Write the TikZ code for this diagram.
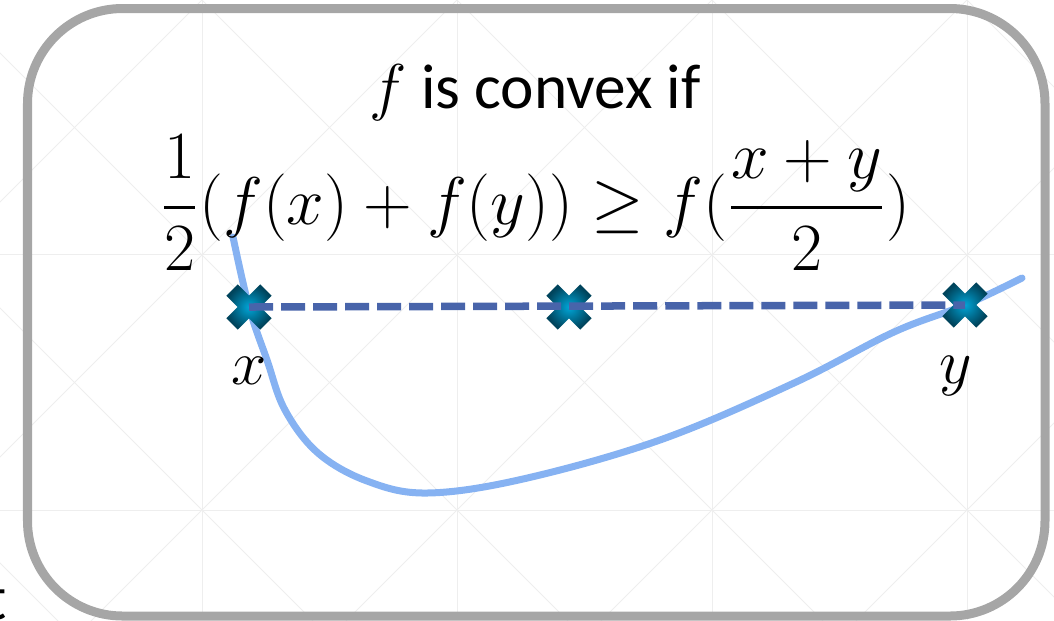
\RequirePackage{fix-cm}
\documentclass[tikz,border=0pt]{standalone}
\usepackage{amsmath}
\usepackage{fontspec}
\setmainfont{Carlito}
\usepackage{tikz}
\usetikzlibrary{positioning}
\definecolor{framegray}{RGB}{166,166,166}
\definecolor{curveblue}{RGB}{134,178,242}
\definecolor{chordblue}{RGB}{72,100,170}
\definecolor{markin}{RGB}{0,165,215}
\definecolor{markout}{RGB}{0,68,92}
\definecolor{gridgray}{RGB}{238,238,238}
\tikzset{
  xmark/.pic={
    \shade[inner color=markin, outer color=markout, rotate=45]
      (-24,-8) -- (-8,-8) -- (-8,-24) -- (8,-24) -- (8,-8) -- (24,-8)
      -- (24,8) -- (8,8) -- (8,24) -- (-8,24) -- (-8,8) -- (-24,8) -- cycle;
  },
  chord/.style={chordblue, line width=0.075cm, dash pattern=on 0.24cm off 0.08cm},
  fcurve/.style={curveblue, line width=0.07cm, line cap=round}
}

\begin{document}
\begin{tikzpicture}[x=0.01cm, y=-0.01cm, font=\fontsize{18}{22}\selectfont]
  \useasboundingbox (0,0) rectangle (1054,620);
  % Faint background grid
  \begin{scope}
    \clip (0,0) rectangle (1054,620);
    \foreach \gx in {-53,202,457,712,967}
      \draw[gridgray, line width=0.01cm] (\gx,0) -- (\gx,620);
    \foreach \gy in {-2,254,510}
      \draw[gridgray, line width=0.01cm] (0,\gy) -- (1054,\gy);
    \foreach \k in {-3,...,6} {
      \draw[gridgray, line width=0.01cm] (\k*255-408,-100) -- (\k*255+392,700);
      \draw[gridgray, line width=0.01cm] (\k*255+302,-100) -- (\k*255-498,700);
    }
  \end{scope}
  % Frame
  \draw[framegray, line width=0.09cm, rounded corners=0.95cm]
    (27.5,8.5) rectangle (1045,616);
  % Leftover letter at the edge
  \node[anchor=base east, inner sep=0pt] (cut) at (7,619) {t};
  % Points x, mid, y
  \coordinate (px) at (249,307);
  \coordinate (pm) at (569,307);
  \coordinate (py) at (965,305);
  % The function
  \draw[fcurve] plot[smooth, tension=0.6] coordinates {
    (233,237) (px) (267,360) (285,410) (318,453) (367,481) (427,493)
    (523,479) (660,440) (794,383) (894,332) (py) (1022,278)};
  % Markers
  \pic at (px) {xmark};
  \pic at (pm) {xmark};
  \pic at (py) {xmark};
  % Chord
  \draw[chord] (px) -- (py);
  % Labels
  \node[anchor=base] (title) at (535,108) {$f$ is convex if};
  \node[font=\fontsize{19.2}{23}\selectfont] (ineq) at (535,203)
    {$\dfrac{1}{2}(f(x)+f(y))\geq f(\dfrac{x+y}{2})$};
  \node[anchor=base] (xlab) at (249,384) {$x$};
  \node[anchor=base] (ylab) at (956,383) {$y$};
\end{tikzpicture}
\end{document}
